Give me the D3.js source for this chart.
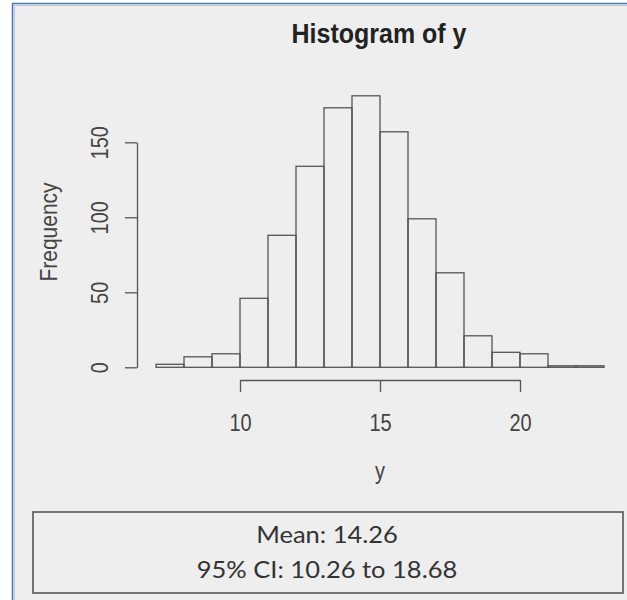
<!DOCTYPE html>
<html>
<head>
<meta charset="utf-8">
<script src="https://cdn.jsdelivr.net/npm/d3@7"></script>
<style>
	html, body { margin: 0; padding: 0; background: #ffffff; }
	svg { display: block; }
	.axis text { font-family: "Liberation Sans", Arial, sans-serif; font-size: 20px; fill: #444; }
	.axis path, .axis line { stroke: #555; stroke-width: 1.3; fill: none; }
</style>
</head>
<body>
<svg id="chart" width="627" height="600"></svg>
<script>

// histogram of y, bins of width 1
var binStarts = [7, 8, 9, 10, 11, 12, 13, 14, 15, 16, 17, 18, 19, 20, 21, 22];
var counts = [2, 7, 9, 46, 88, 134, 173, 181, 157, 99, 63, 21, 10, 9, 1, 1];
var xTickValues = [10, 15, 20];
var yTickValues = [0, 50, 100, 150];
var summaryLines = ["Mean: 14.26", "95% CI: 10.26 to 18.68"];

// glyphs of the R device come out taller than the installed fonts
var tall = 1.17;

var svg = d3.select("#chart");

//#############
//### frame ###
//#############
svg.append("rect")
	.attr("x", 12.5)
	.attr("y", 3.5)
	.attr("width", 640)
	.attr("height", 620)
	.attr("fill", "#eeeeee")
	.attr("stroke", "#4a78b0")
	.attr("stroke-width", 1.5);

svg.append("path")
	.attr("d", "M14.5,640 V5.5 H640")
	.attr("fill", "none")
	.attr("stroke", "#b4c9e2")
	.attr("stroke-width", 1);

//##############
//### scales ###
//##############
var x = d3.scaleLinear().domain([10, 20]).range([240, 520]);
var y = d3.scaleLinear().domain([0, 150]).range([367.3, 142.3]);

//############
//### bars ###
//############
svg.append("g")
	.attr("class", "bars")
	.selectAll("rect")
	.data(counts)
	.enter()
	.append("rect")
		.attr("x", function(d, i){ return x(binStarts[i]); })
		.attr("y", function(d){ return y(d); })
		.attr("width", function(d, i){ return x(binStarts[i] + 1) - x(binStarts[i]); })
		.attr("height", function(d){ return y(0) - y(d); })
		.attr("fill", "none")
		.attr("stroke", "#555")
		.attr("stroke-width", 1.3);

//############
//### axes ###
//############
var xAxis = svg.append("g")
	.attr("class", "axis")
	.attr("transform", "translate(0,380)")
	.call(
		d3.axisBottom(x).tickValues(xTickValues).tickSize(12).tickSizeOuter(0)
	);

xAxis.selectAll("text")
	.attr("y", 0)
	.attr("dy", 0)
	.attr("transform", "translate(0,51) scale(1," + tall + ")");

var yAxis = svg.append("g")
	.attr("class", "axis")
	.attr("transform", "translate(137,0)")
	.call(
		d3.axisLeft(y).tickValues(yTickValues).tickSize(12).tickSizeOuter(0)
	);

// R draws the y labels parallel to the axis
yAxis.selectAll("text")
	.attr("x", 0)
	.attr("dy", 0)
	.attr("text-anchor", "middle")
	.attr("transform", "translate(-29,0) rotate(-90) scale(1," + tall + ")");

//##############
//### labels ###
//##############
svg.append("text")
	.attr("transform", "translate(379,43) scale(1,1.12)")
	.attr("text-anchor", "middle")
	.style("font-family", "'Liberation Sans', Arial, sans-serif")
	.style("font-size", "25px")
	.style("font-weight", "bold")
	.style("fill", "#222")
	.text("Histogram of y");

svg.append("text")
	.attr("transform", "translate(380,479) scale(1," + tall + ")")
	.attr("text-anchor", "middle")
	.style("font-family", "'Liberation Sans', Arial, sans-serif")
	.style("font-size", "20px")
	.style("fill", "#444")
	.text("y");

svg.append("text")
	.attr("transform", "translate(57,232) rotate(-90) scale(1," + tall + ")")
	.attr("text-anchor", "middle")
	.style("font-family", "'Liberation Sans', Arial, sans-serif")
	.style("font-size", "21px")
	.style("fill", "#444")
	.text("Frequency");

//###################
//### summary box ###
//###################
svg.append("rect")
	.attr("x", 33)
	.attr("y", 512)
	.attr("width", 590)
	.attr("height", 81)
	.attr("fill", "none")
	.attr("stroke", "#666")
	.attr("stroke-width", 1.8);

svg.append("g")
	.selectAll("text")
	.data(summaryLines)
	.enter()
	.append("text")
		.attr("transform", function(d, i){ return "translate(327," + (543 + i*35) + ") scale(1,0.93)"; })
		.attr("text-anchor", "middle")
		.style("font-family", "Lato, 'Open Sans', sans-serif")
		.style("font-size", "25.5px")
		.style("fill", "#333")
		.text(function(d){ return d; });

</script>
</body>
</html>
